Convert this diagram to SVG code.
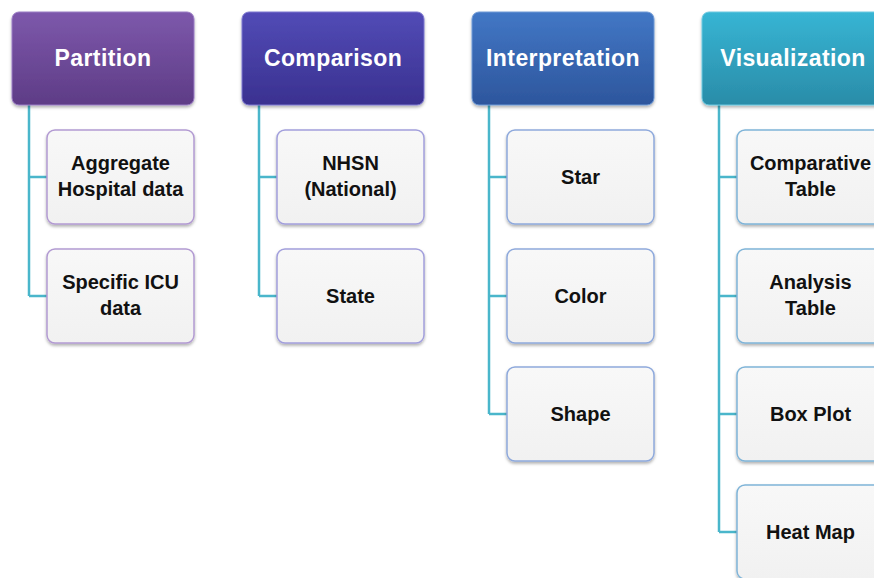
<svg xmlns="http://www.w3.org/2000/svg" width="874" height="578" viewBox="0 0 874 578">
<style>
.hd{font-family:"Liberation Sans",Arial,sans-serif;font-weight:bold;font-size:23px;fill:#ffffff;text-anchor:middle;letter-spacing:0.4px}
.ch{font-family:"Liberation Sans",Arial,sans-serif;font-weight:bold;font-size:20px;fill:#111111;text-anchor:middle}
.cb{fill:url(#gc);stroke-width:1.5}
.ln{fill:none;stroke:#4ab6cb;stroke-width:2.5}
</style>
<defs>
<filter id="sh" x="-10%" y="-10%" width="120%" height="130%"><feDropShadow dx="0" dy="2" stdDeviation="1.5" flood-color="#000" flood-opacity="0.3"/></filter>
<linearGradient id="gc" x1="0" y1="0" x2="0" y2="1"><stop offset="0" stop-color="#f8f8f8"/><stop offset="1" stop-color="#f1f1f1"/></linearGradient>
<linearGradient id="g1" x1="0" y1="0" x2="0" y2="1"><stop offset="0" stop-color="#7d58ab"/><stop offset="1" stop-color="#5e3c86"/></linearGradient>
<linearGradient id="g2" x1="0" y1="0" x2="0" y2="1"><stop offset="0" stop-color="#524bb6"/><stop offset="1" stop-color="#3a3190"/></linearGradient>
<linearGradient id="g3" x1="0" y1="0" x2="0" y2="1"><stop offset="0" stop-color="#4277c5"/><stop offset="1" stop-color="#2d569d"/></linearGradient>
<linearGradient id="g4" x1="0" y1="0" x2="0" y2="1"><stop offset="0" stop-color="#37b5d4"/><stop offset="1" stop-color="#2a8ca8"/></linearGradient>
</defs>
<rect width="874" height="578" fill="#ffffff"/>
<g id="connectors">
<path class="ln" d="M29 105 V296 M29 177 H47 M29 296 H47"/>
<path class="ln" d="M259 105 V296 M259 177 H277 M259 296 H277"/>
<path class="ln" d="M489 105 V414 M489 177 H507 M489 296 H507 M489 414 H507"/>
<path class="ln" d="M719 105 V532 M719 177 H737 M719 296 H737 M719 414 H737 M719 532 H737"/>
</g>
<g id="partition"><rect x="12" y="12" width="182" height="93" rx="7" fill="url(#g1)" stroke="#9a7cc4" stroke-width="1" filter="url(#sh)"/><text class="hd" x="103" y="66">Partition</text></g>
<g id="aggregate"><rect class="cb" x="47" y="130" width="147" height="94" rx="8" stroke="#b29ad2" filter="url(#sh)"/><text class="ch" x="120.5" y="170">Aggregate</text><text class="ch" x="120.5" y="196">Hospital data</text></g>
<g id="specific"><rect class="cb" x="47" y="249" width="147" height="94" rx="8" stroke="#b29ad2" filter="url(#sh)"/><text class="ch" x="120.5" y="289">Specific ICU</text><text class="ch" x="120.5" y="315">data</text></g>
<g id="comparison"><rect x="242" y="12" width="182" height="93" rx="7" fill="url(#g2)" stroke="#7d78d0" stroke-width="1" filter="url(#sh)"/><text class="hd" x="333" y="66">Comparison</text></g>
<g id="nhsn"><rect class="cb" x="277" y="130" width="147" height="94" rx="8" stroke="#a29fdc" filter="url(#sh)"/><text class="ch" x="350.5" y="170">NHSN</text><text class="ch" x="350.5" y="196">(National)</text></g>
<g id="state"><rect class="cb" x="277" y="249" width="147" height="94" rx="8" stroke="#a29fdc" filter="url(#sh)"/><text class="ch" x="350.5" y="303">State</text></g>
<g id="interpretation"><rect x="472" y="12" width="182" height="93" rx="7" fill="url(#g3)" stroke="#6f9ad6" stroke-width="1" filter="url(#sh)"/><text class="hd" x="563" y="66">Interpretation</text></g>
<g id="star"><rect class="cb" x="507" y="130" width="147" height="94" rx="8" stroke="#8ea9dc" filter="url(#sh)"/><text class="ch" x="580.5" y="184">Star</text></g>
<g id="color"><rect class="cb" x="507" y="249" width="147" height="94" rx="8" stroke="#8ea9dc" filter="url(#sh)"/><text class="ch" x="580.5" y="303">Color</text></g>
<g id="shape"><rect class="cb" x="507" y="367" width="147" height="94" rx="8" stroke="#8ea9dc" filter="url(#sh)"/><text class="ch" x="580.5" y="421">Shape</text></g>
<g id="visualization"><rect x="702" y="12" width="182" height="93" rx="7" fill="url(#g4)" stroke="#6cc9e0" stroke-width="1" filter="url(#sh)"/><text class="hd" x="793" y="66">Visualization</text></g>
<g id="comparative"><rect class="cb" x="737" y="130" width="147" height="94" rx="8" stroke="#7fb4d8" filter="url(#sh)"/><text class="ch" x="810.5" y="170">Comparative</text><text class="ch" x="810.5" y="196">Table</text></g>
<g id="analysis"><rect class="cb" x="737" y="249" width="147" height="94" rx="8" stroke="#7fb4d8" filter="url(#sh)"/><text class="ch" x="810.5" y="289">Analysis</text><text class="ch" x="810.5" y="315">Table</text></g>
<g id="boxplot"><rect class="cb" x="737" y="367" width="147" height="94" rx="8" stroke="#7fb4d8" filter="url(#sh)"/><text class="ch" x="810.5" y="421">Box Plot</text></g>
<g id="heatmap"><rect class="cb" x="737" y="485" width="147" height="94" rx="8" stroke="#7fb4d8" filter="url(#sh)"/><text class="ch" x="810.5" y="539">Heat Map</text></g>
</svg>
